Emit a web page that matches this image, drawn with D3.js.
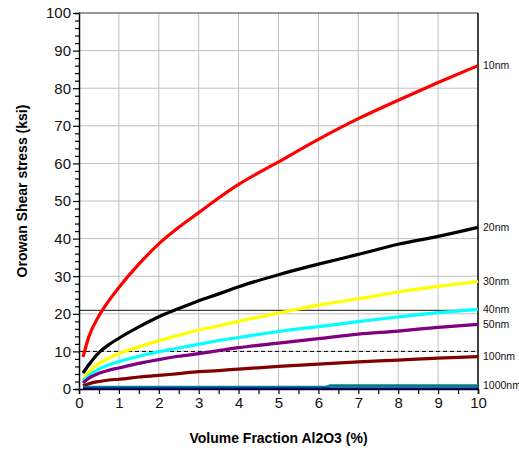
<!DOCTYPE html>
<html><head><meta charset="utf-8">
<script src="https://cdn.jsdelivr.net/npm/d3@7"></script>
<style>body{margin:0;background:#fff}svg{font-family:"Liberation Sans",Arial,sans-serif}</style>
</head><body><svg id="c" width="519" height="450"></svg>
<script>
const xs = [0.1,0.25,0.5,0.75,1,1.5,2,2.5,3,3.5,4,5,6,7,8,9,10];
const s10 = [8.5,14,19.5,23.5,27,33.2,38.6,43,46.9,50.8,54.4,60.4,66.4,71.9,76.8,81.5,86];
const s20 = [4.2,6.5,9.7,11.8,13.5,16.5,19.2,21.4,23.5,25.3,27.2,30.4,33.2,35.8,38.5,40.6,43];
const s30 = [2.8,4.5,6.8,8.2,9.4,11.2,12.8,14.3,15.7,16.8,18,20.2,22.3,24,25.8,27.3,28.6];
const s40 = [2.2,3.6,5.3,6.4,7.3,8.7,9.9,10.9,11.9,12.9,13.7,15.3,16.6,17.9,19.2,20.3,21.2];
const s50 = [1.6,2.9,4.2,5,5.6,6.8,7.8,8.7,9.4,10.2,11,12.2,13.4,14.6,15.4,16.4,17.2];
const s100 = [0.8,1.4,2,2.4,2.6,3.2,3.6,4.1,4.6,4.9,5.3,6,6.6,7.2,7.7,8.2,8.6];
const xs1000 = [0.1,6.2,6.3,10];
const s1000 = [0.45,0.45,0.85,0.85];
const xsBase = [0.1,10];
const sBase = [0.15,0.15];
const seriesNames = ["10nm","20nm","30nm","40nm","50nm","100nm","1000nm",""];
const seriesColors = ["#ff0000","#000000","#ffff00","#00ffff","#800080","#800000","#008080","#0000cc"];
const refSolid = 20.9, refDashed = 10;
const xTicks = [0,1,2,3,4,5,6,7,8,9,10];
const yTicks = [0,10,20,30,40,50,60,70,80,90,100];
const xLabel = "Volume Fraction Al2O3 (%)";
const yLabel = "Orowan Shear stress (ksi)";

const svg = d3.select("#c");
const L=79, R=478, T=13, B=389;
const x = d3.scaleLinear().domain([0,10]).range([L,R]);
const y = d3.scaleLinear().domain([0,100]).range([B,T]);

svg.append("g").selectAll("line").data(xTicks.slice(1,-1)).join("line")
  .attr("x1",d=>x(d)).attr("x2",d=>x(d)).attr("y1",T).attr("y2",B)
  .attr("stroke","#c0c0c0").attr("stroke-width",1);
svg.append("g").selectAll("line").data(yTicks.slice(1,-1)).join("line")
  .attr("x1",L).attr("x2",R).attr("y1",d=>y(d)).attr("y2",d=>y(d))
  .attr("stroke","#c0c0c0").attr("stroke-width",1);

svg.append("line").attr("x1",L).attr("x2",R).attr("y1",y(refSolid)).attr("y2",y(refSolid))
  .attr("stroke","#404040").attr("stroke-width",1.2);
svg.append("line").attr("x1",L).attr("x2",R).attr("y1",y(refDashed)).attr("y2",y(refDashed))
  .attr("stroke","#000").attr("stroke-width",1).attr("stroke-dasharray","4,3");

svg.append("line").attr("x1",L).attr("x2",R).attr("y1",T).attr("y2",T).attr("stroke","#333").attr("stroke-width",1.2);
svg.append("line").attr("x1",R).attr("x2",R).attr("y1",T).attr("y2",B).attr("stroke","#000").attr("stroke-width",1.5);

const line = d3.line().x(d=>x(d[0])).y(d=>y(d[1])).curve(d3.curveMonotoneX);
const lineStep = d3.line().x(d=>x(d[0])).y(d=>y(d[1]));
const allY = [s10,s20,s30,s40,s50,s100];
const data = allY.map(a=>xs.map((v,i)=>[v,a[i]]));
data.push(xs1000.map((v,i)=>[v,s1000[i]]));
data.push(xsBase.map((v,i)=>[v,sBase[i]]));
const widths=[3.2,3.2,3.2,3.2,3.2,3.2,3.2,2];
svg.append("g").selectAll("path").data(data).join("path")
  .attr("d",(d,i)=>i<6?line(d):lineStep(d)).attr("fill","none")
  .attr("stroke",(d,i)=>seriesColors[i]).attr("stroke-width",(d,i)=>widths[i])
  .attr("stroke-linejoin","round");

const xAxis = d3.axisBottom(x).tickValues(d3.range(0,10.01,0.5)).tickSize(5).tickFormat(d=>Number.isInteger(d)?d:"");
const gx = svg.append("g").attr("transform",`translate(0,${B})`).call(xAxis);
gx.select(".domain").attr("stroke","#000").attr("stroke-width",1.5);
gx.selectAll(".tick line").attr("stroke","#000").attr("stroke-width",1.2);
gx.selectAll("text").attr("font-size",15).attr("fill","#111").attr("dy","0.95em").attr("y",5);

const yAxis = d3.axisLeft(y).tickValues(d3.range(0,100.1,2)).tickSize(4).tickFormat(d=>d%10===0?d:"");
const gy = svg.append("g").attr("transform",`translate(${L},0)`).call(yAxis);
gy.select(".domain").attr("stroke","#000").attr("stroke-width",1.5);
gy.selectAll(".tick line").attr("stroke","#000").attr("stroke-width",1.2)
  .attr("x2",d=>d%10===0?-6:-4);
gy.selectAll("text").attr("font-size",15).attr("fill","#111").attr("x",-8);

const ends = data.slice(0,7).map(d=>d[d.length-1][1]);
svg.append("g").selectAll("text").data(seriesNames.slice(0,7)).join("text")
  .attr("x",R+5).attr("y",(d,i)=>y(ends[i])).attr("dy","0.35em")
  .attr("font-size",10.5).attr("fill","#111").text(d=>d);

svg.append("text").attr("x",(L+R)/2).attr("y",443).attr("text-anchor","middle")
  .attr("font-size",14).attr("font-weight","bold").text(xLabel);
svg.append("text").attr("transform",`translate(27,${(T+B)/2-10}) rotate(-90)`).attr("text-anchor","middle")
  .attr("font-size",14).attr("font-weight","bold").text(yLabel);
</script></body></html>
